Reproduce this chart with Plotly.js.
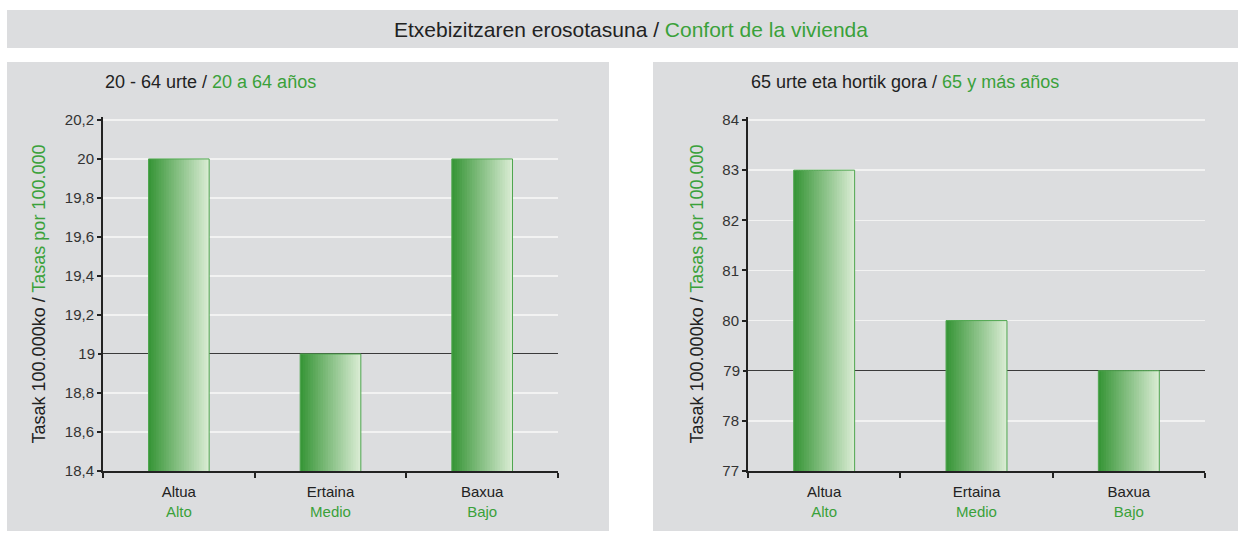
<!DOCTYPE html>
<html>
<head>
<meta charset="utf-8">
<script src="https://cdn.plot.ly/plotly-3.0.1.min.js"></script>
<style>
  html, body { margin: 0; padding: 0; background: #ffffff; }
  #chart { width: 1244px; height: 538px; }
</style>
</head>
<body>
<div id="chart"></div>
<script>
// Datos
const categorias = ['Altua', 'Ertaina', 'Baxua'];
const categoriasEs = ['Alto', 'Medio', 'Bajo'];
const tasas2064 = [20, 19, 20];
const tasas65 = [83, 80, 79];
const ticks2064 = [18.4, 18.6, 18.8, 19, 19.2, 19.4, 19.6, 19.8, 20, 20.2];
const ticks2064Txt = ['18,4', '18,6', '18,8', '19', '19,2', '19,4', '19,6', '19,8', '20', '20,2'];
const ticks65 = [77, 78, 79, 80, 81, 82, 83, 84];
const ticks65Txt = ['77', '78', '79', '80', '81', '82', '83', '84'];
const referencia2064 = 19;
const referencia65 = 79;

const VERDE = '#3aa13a';
const W = 1244, H = 538;

// etiquetas del eje x en dos idiomas
const etiquetasX = categorias.map((c, i) => c + '<br><span style="color:' + VERDE + '">' + categoriasEs[i] + '</span>');

// degradado horizontal: varias franjas finas superpuestas
const N = 24;
const anchoBarra = 0.4;
const c0 = [56, 150, 56];
const c1 = [216, 235, 210];
const mezcla = t => 'rgb(' + c0.map((v, k) => Math.round(v + (c1[k] - v) * t)).join(',') + ')';

const franjas = (valores, xa, ya) => {
    const paso = anchoBarra / N;
    const trazos = [];
    for (let i = 0; i < N; i++) {
        trazos.push({
            type: 'bar',
            x: categorias,
            y: valores,
            xaxis: xa, yaxis: ya,
            width: i < N - 1 ? paso * 1.6 : paso,
            offset: -anchoBarra / 2 + i * paso,
            marker: { color: mezcla(i / (N - 1)), line: { width: 0 } },
            hoverinfo: 'skip',
            showlegend: false
        });
    }
    // contorno
    trazos.push({
        type: 'bar',
        x: categorias,
        y: valores,
        xaxis: xa, yaxis: ya,
        width: anchoBarra,
        offset: -anchoBarra / 2,
        marker: { color: 'rgba(0,0,0,0)', line: { width: 1, color: '#4fa64f' } },
        hovertemplate: '%{x}: %{y}<extra></extra>',
        showlegend: false
    });
    return trazos;
};

const data = [
    ...franjas(tasas2064, 'x', 'y'),
    ...franjas(tasas65, 'x2', 'y2')
];

const DOM_Y = [1 - 471 / H, 1 - 117 / H];

const ejeX = dominio => ({
    domain: dominio,
    type: 'category',
    tickvals: categorias,
    ticktext: etiquetasX,
    ticks: 'outside',
    tickson: 'boundaries',
    ticklen: 5,
    tickwidth: 2,
    tickcolor: '#222',
    ticklabelstandoff: 6,
    showline: true,
    linecolor: '#222',
    linewidth: 2,
    showgrid: false,
    tickfont: { size: 15, color: '#222' },
    fixedrange: true
});

const ejeYBase = (rango, vals, txt) => ({
    domain: DOM_Y,
    range: rango,
    tickvals: vals,
    ticktext: txt,
    ticks: 'outside',
    ticklen: 4,
    tickwidth: 2,
    tickcolor: '#222',
    zeroline: false,
    tickfont: { size: 15, color: '#333' },
    fixedrange: true
});

// eje principal: rejilla blanca (sin la línea de referencia)
const ejeY = (rango, vals, txt, ref) => Object.assign(ejeYBase(rango,
    vals.filter(v => v !== ref), txt.filter((t, i) => vals[i] !== ref)), {
    showline: true,
    linecolor: '#222',
    linewidth: 2,
    showgrid: true,
    gridcolor: '#f2f2f2',
    gridwidth: 1.5,
    title: {
        text: 'Tasak 100.000ko / <span style="color:' + VERDE + '">Tasas por 100.000</span>',
        font: { size: 18, color: '#222' },
        standoff: 14
    }
});

// eje superpuesto: sólo la línea de referencia oscura
const ejeRef = (rango, vals, txt, ref, sobre, ancla) => Object.assign(ejeYBase(rango,
    vals.filter(v => v === ref), txt.filter((t, i) => vals[i] === ref)), {
    overlaying: sobre,
    anchor: ancla,
    side: 'left',
    showline: false,
    showgrid: true,
    gridcolor: '#3a3a3a',
    gridwidth: 1
});

const caja = (x0, x1, y0, y1, color) => ({
    type: 'rect', xref: 'paper', yref: 'paper', layer: 'below',
    x0: x0 / W, x1: x1 / W, y0: 1 - y1 / H, y1: 1 - y0 / H,
    fillcolor: color, line: { width: 0 }
});

const layout = {
    width: W, height: H,
    margin: { l: 0, r: 0, t: 0, b: 0 },
    paper_bgcolor: '#ffffff',
    plot_bgcolor: '#bbbcc0',
    font: { family: '"Liberation Sans", Arial, sans-serif', color: '#222' },
    barmode: 'overlay',
    showlegend: false,
    xaxis: ejeX([103 / W, 558 / W]),
    yaxis: ejeY([18.4, 20.215], ticks2064, ticks2064Txt, referencia2064),
    xaxis2: Object.assign(ejeX([748 / W, 1205 / W]), { anchor: 'y2' }),
    yaxis2: Object.assign(ejeY([77, 84.06], ticks65, ticks65Txt, referencia65), { anchor: 'x2' }),
    yaxis3: ejeRef([18.4, 20.215], ticks2064, ticks2064Txt, referencia2064, 'y', 'x'),
    yaxis4: ejeRef([77, 84.06], ticks65, ticks65Txt, referencia65, 'y2', 'x2'),
    shapes: [
        caja(7, 1238, 10, 48, '#dcdddf'),
        caja(7, 609, 62, 531, '#dcdddf'),
        caja(653, 1238, 62, 531, '#dcdddf')
    ],
    annotations: [
        { xref: 'paper', yref: 'paper', x: 631 / W, y: 1 - 29 / H, xanchor: 'center', yanchor: 'middle',
          showarrow: false, font: { size: 21, color: '#222' },
          text: 'Etxebizitzaren erosotasuna / <span style="color:' + VERDE + '">Confort de la vivienda</span>' },
        { xref: 'paper', yref: 'paper', x: 103 / W, y: 1 - 82 / H, xanchor: 'left', yanchor: 'middle',
          showarrow: false, font: { size: 18, color: '#222' },
          text: '20 - 64 urte / <span style="color:' + VERDE + '">20 a 64 años</span>' },
        { xref: 'paper', yref: 'paper', x: 749 / W, y: 1 - 82 / H, xanchor: 'left', yanchor: 'middle',
          showarrow: false, font: { size: 18, color: '#222' },
          text: '65 urte eta hortik gora / <span style="color:' + VERDE + '">65 y más años</span>' }
    ]
};

// trazo vacío para que existan los subplots superpuestos
data.push({ type: 'scatter', x: [], y: [], xaxis: 'x', yaxis: 'y3', showlegend: false });
data.push({ type: 'scatter', x: [], y: [], xaxis: 'x2', yaxis: 'y4', showlegend: false });

Plotly.newPlot('chart', data, layout, { displayModeBar: false, staticPlot: true });
</script>
</body>
</html>
